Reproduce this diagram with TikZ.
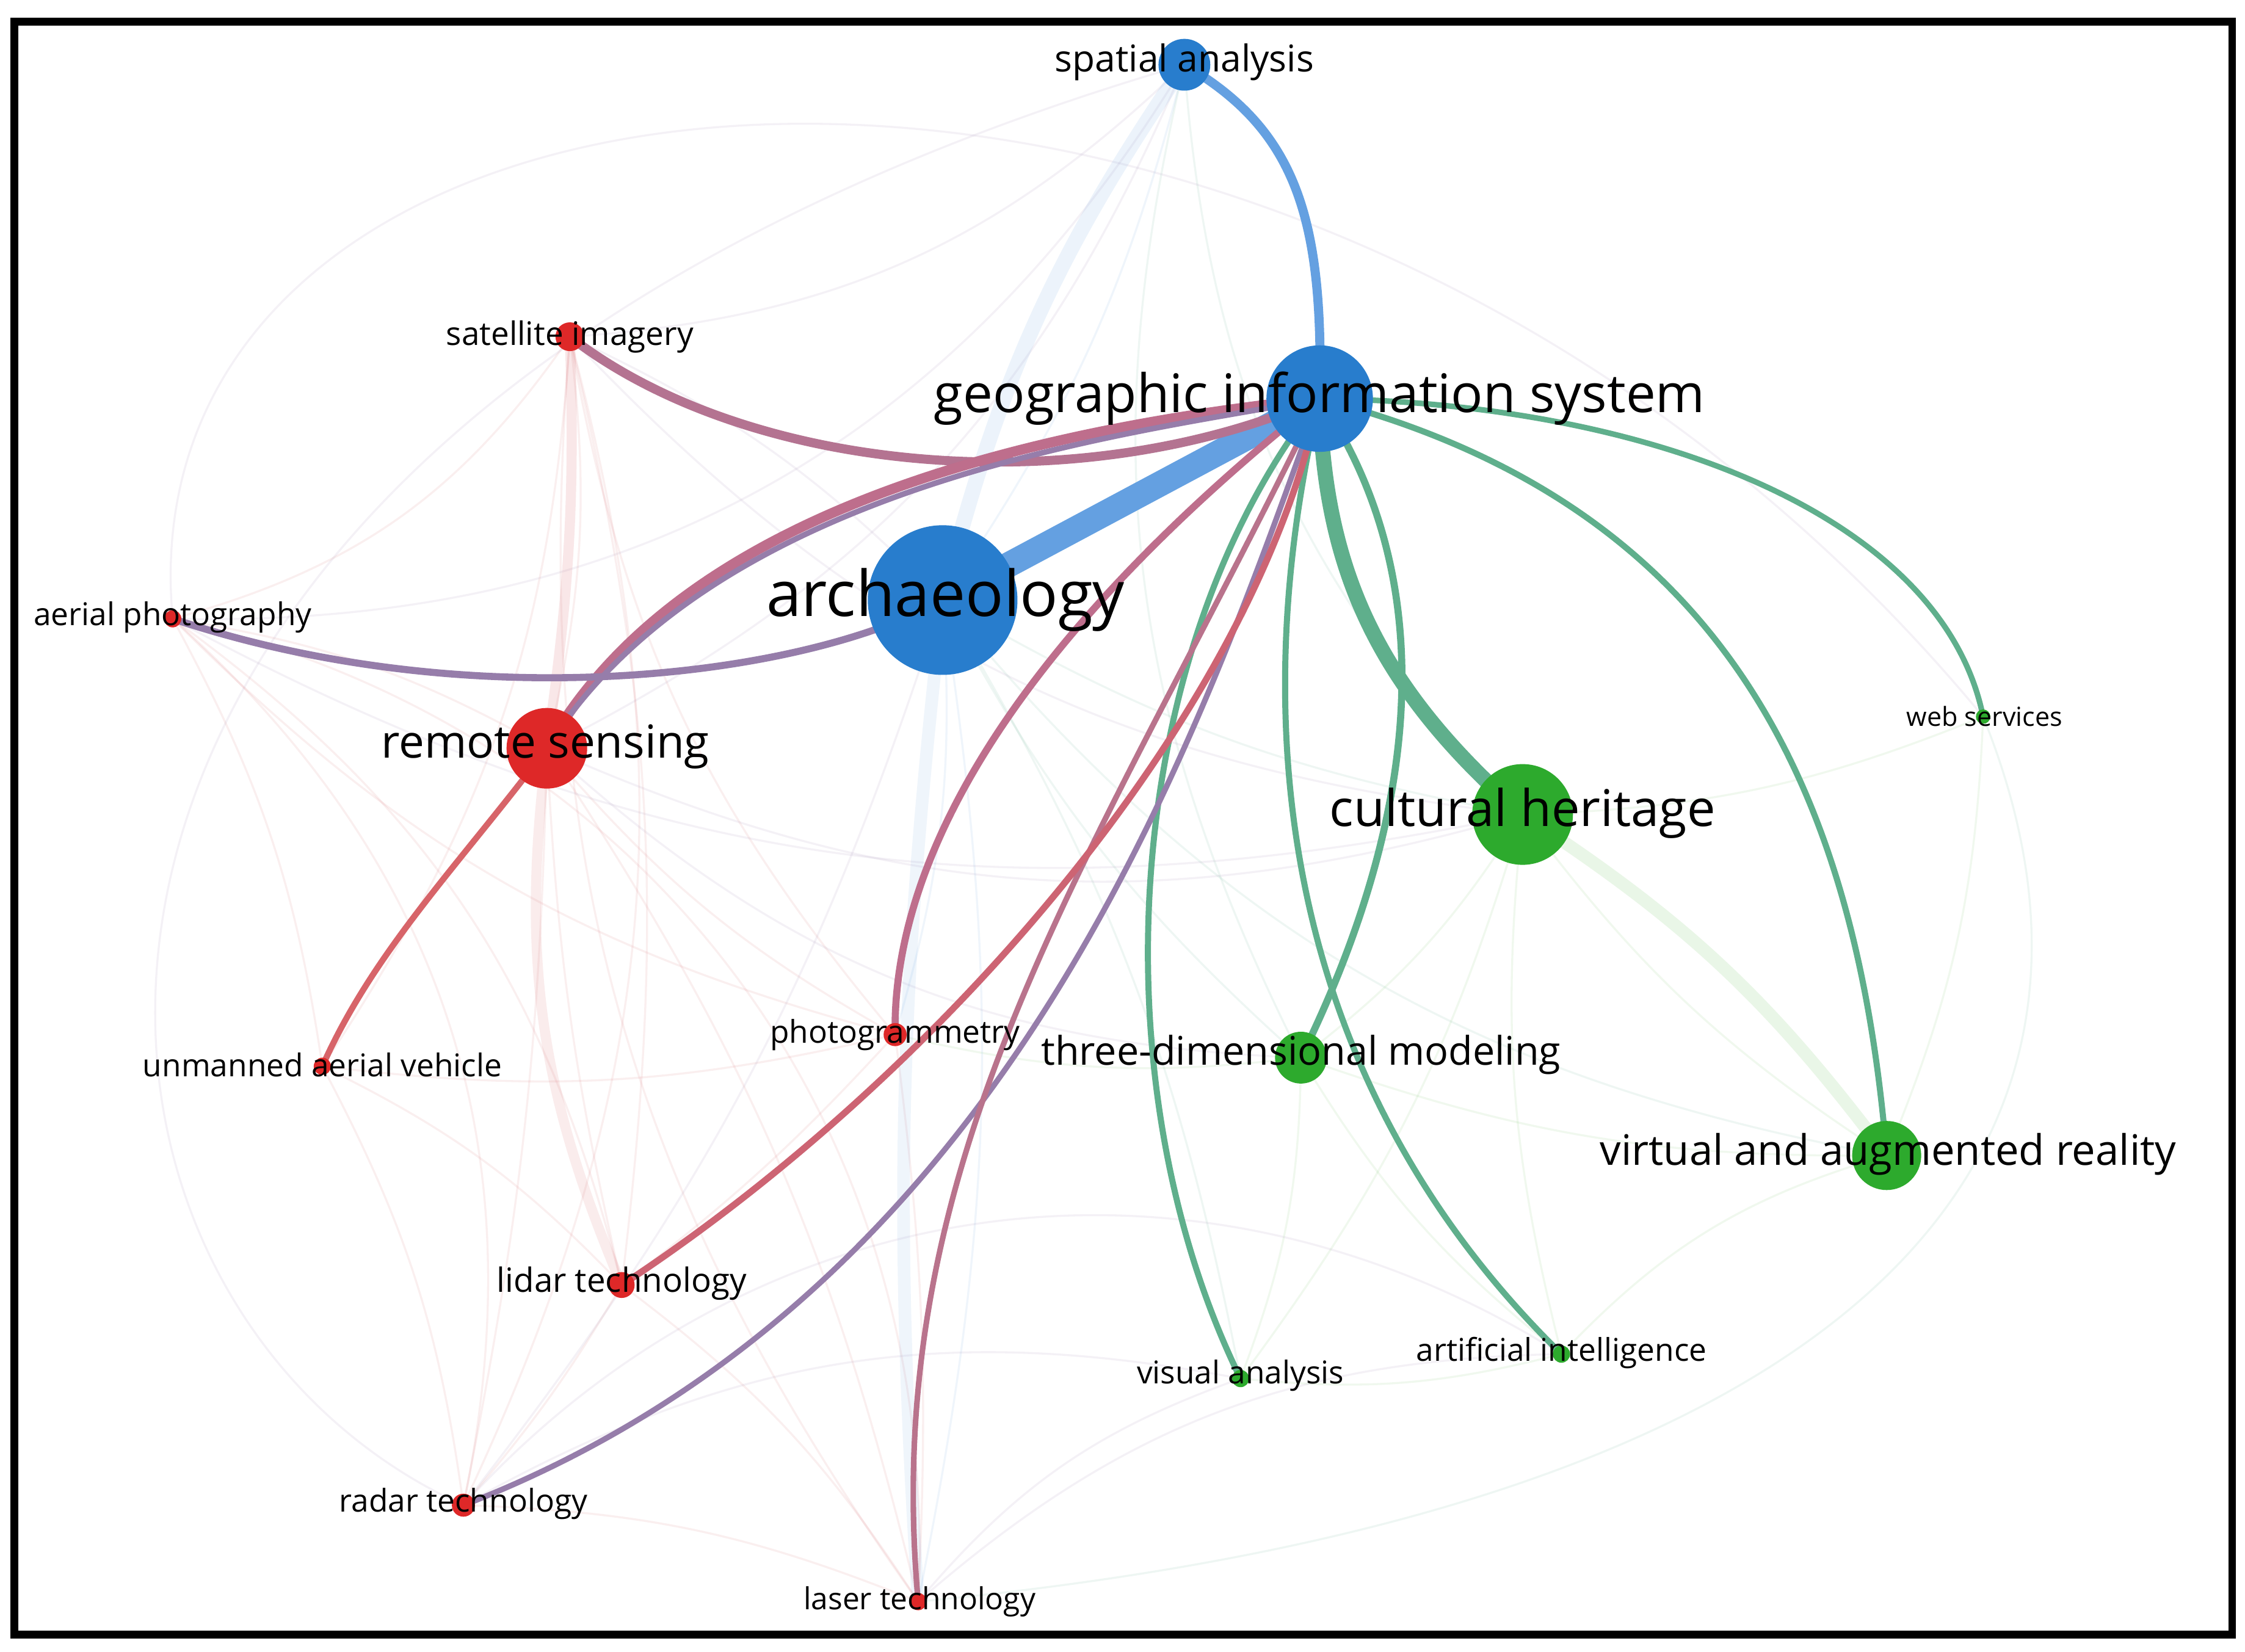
\documentclass[tikz,border=0pt]{standalone}
\usepackage{fontspec}
\setmainfont{Open Sans}
\begin{document}
\begin{tikzpicture}[x=0.01cm,y=-0.01cm,
 bl/.style={fill={rgb,255:red,40;green,125;blue,205}},
 rd/.style={fill={rgb,255:red,222;green,40;blue,40}},
 gr/.style={fill={rgb,255:red,45;green,170;blue,45}},
 lab/.style={text=black,inner sep=0pt},
 e/.style={line width=#1,line cap=round},
 faint/.style={line width=0.4pt,opacity=0.1},
 cb/.style={draw={rgb,255:red,100;green,160;blue,225}},
 cr/.style={draw={rgb,255:red,215;green,100;blue,105}},
 cp/.style={draw={rgb,255:red,150;green,125;blue,170}},
 cg/.style={draw={rgb,255:red,95;green,175;blue,140}},
 cgg/.style={draw={rgb,255:red,110;green,195;blue,95}}]
\useasboundingbox (0,0) rectangle (1560,1148);
\fill[white] (0,0) rectangle (1560,1148);
% node positions
\coordinate (sa) at (823,45);
\coordinate (gis) at (917,277);
\coordinate (ar) at (655,417);
\coordinate (si) at (396,234);
\coordinate (ap) at (120,430);
\coordinate (rs) at (380,520);
\coordinate (uav) at (224,741);
\coordinate (ph) at (622,719);
\coordinate (li) at (432,893);
\coordinate (ra) at (322,1046);
\coordinate (la) at (638,1113);
\coordinate (ch) at (1058,566);
\coordinate (tdm) at (904,735);
\coordinate (vr) at (1311,803);
\coordinate (ws) at (1378,498);
\coordinate (va) at (862,958);
\coordinate (ai) at (1085,941);
% faint edges
\foreach \a/\b/\c/\bd in {si/ap/cr/20,si/rs/cr/10,si/uav/cr/15,si/ph/cr/-15,si/li/cr/10,si/ra/cr/20,si/la/cr/-20,ap/rs/cr/10,ap/uav/cr/10,ap/li/cr/20,ap/ra/cr/30,ap/ph/cr/-15,rs/ph/cr/-10,rs/li/cr/-5,rs/ra/cr/5,rs/la/cr/10,uav/li/cr/10,uav/ra/cr/10,uav/ph/cr/-10,li/ra/cr/5,li/la/cr/10,ra/la/cr/10,ph/la/cr/5,ph/li/cr/5,ph/tdm/cgg/-10,ch/tdm/cgg/10,ch/vr/cgg/-10,ch/va/cgg/10,ch/ai/cgg/-10,tdm/vr/cgg/-10,tdm/va/cgg/10,tdm/ai/cgg/-10,va/ai/cgg/-10,vr/ai/cgg/-15,ws/vr/cgg/10,ws/ch/cgg/10,sa/ar/cb/10,sa/ch/cg/-20,sa/si/cp/20,sa/rs/cp/20,sa/tdm/cg/-20,ar/ph/cb/10,ar/la/cb/10,ar/ch/cg/-10,ar/tdm/cg/-10,ar/va/cg/10,ar/si/cp/-10,ar/ra/cp/10,ar/vr/cg/-20,rs/ch/cp/-20,rs/tdm/cp/-20,ap/ch/cp/-20,ap/la/cr/40,ra/va/cp/20,la/va/cp/15,la/ai/cp/20,ap/sa/cp/-30,ra/ai/cp/40,si/ch/cp/-20}
  \draw[faint,\c] (\a) to[bend left=\bd] (\b);
\draw[faint,cp] (ap) .. controls (80,0) and (900,-80) .. (ws);
\draw[faint,cp] (ra) .. controls (0,900) and (-50,300) .. (sa);
\draw[faint,cg] (ws) .. controls (1500,800) and (1300,1050) .. (la);
\draw[e=3pt,cb,opacity=0.12] (sa) to[bend right=10] (ar);
\draw[e=2.5pt,cb,opacity=0.1] (ar) to[bend right=5] (la);
\draw[e=2pt,cr,opacity=0.15] (si) to[bend left=5] (rs);
\draw[e=2pt,cr,opacity=0.12] (rs) to[bend right=15] (li);
\draw[e=2.5pt,cgg,opacity=0.15] (ch) to[bend left=10] (vr);
% strong edges
\draw[e=1.8pt,cb] (sa) .. controls (900,90) and (920,150) .. (gis);
\draw[e=5pt,cb] (ar) -- (gis);
\draw[e=1.8pt,draw={rgb,255:red,180;green,115;blue,145}] (si) .. controls (520,330) and (750,350) .. (gis);
\draw[e=2pt,draw={rgb,255:red,190;green,110;blue,140}] (rs) .. controls (470,360) and (700,300) .. (gis);
\draw[e=1.4pt,cp] (ap) .. controls (330,500) and (560,470) .. (ar);
\draw[e=1.1pt,cp] (rs) .. controls (500,330) and (800,300) .. (gis);
\draw[e=3pt,cg] (gis) .. controls (920,400) and (960,480) .. (ch);
\draw[e=1.4pt,cg] (gis) .. controls (1000,400) and (990,560) .. (tdm);
\draw[e=1.2pt,cg] (gis) .. controls (1200,350) and (1290,550) .. (vr);
\draw[e=1.1pt,cg] (gis) .. controls (1150,280) and (1350,360) .. (ws);
\draw[e=1.2pt,cg] (gis) .. controls (780,450) and (760,750) .. (va);
\draw[e=1.2pt,cg] (gis) .. controls (860,520) and (900,760) .. (ai);
\draw[e=1.4pt,draw={rgb,255:red,190;green,110;blue,140}] (gis) .. controls (700,450) and (620,600) .. (ph);
\draw[e=1.1pt,cp] (gis) .. controls (830,520) and (700,900) .. (ra);
\draw[e=1.1pt,draw={rgb,255:red,185;green,115;blue,140}] (gis) .. controls (760,600) and (610,800) .. (la);
\draw[e=1.3pt,draw={rgb,255:red,205;green,100;blue,115}] (gis) .. controls (870,500) and (650,750) .. (li);
\draw[e=1.2pt,cr] (rs) .. controls (320,600) and (260,660) .. (uav);
% nodes
\fill[bl] (sa) circle (18);
\fill[bl] (gis) circle (37);
\fill[bl] (ar) circle (52);
\fill[rd] (si) circle (10);
\fill[rd] (ap) circle (6);
\fill[rd] (rs) circle (28);
\fill[rd] (uav) circle (6);
\fill[rd] (ph) circle (8);
\fill[rd] (li) circle (9);
\fill[rd] (ra) circle (8);
\fill[rd] (la) circle (6);
\fill[gr] (ch) circle (35);
\fill[gr] (tdm) circle (18);
\fill[gr] (vr) circle (24);
\fill[gr] (ws) circle (5);
\fill[gr] (va) circle (6);
\fill[gr] (ai) circle (6);
% labels
\node[lab,font=\fontsize{7.3pt}{8pt}\selectfont] (saL) at (823,43) {spatial analysis};
\node[lab,font=\fontsize{10.5pt}{12pt}\selectfont] (gisL) at (917,277) {geographic information system};
\node[lab,font=\fontsize{12.5pt}{14pt}\selectfont] (arL) at (657,417) {archaeology};
\node[lab,font=\fontsize{6.4pt}{8pt}\selectfont] (siL) at (396,234) {satellite imagery};
\node[lab,font=\fontsize{6.2pt}{8pt}\selectfont] (apL) at (120,429) {aerial photography};
\node[lab,font=\fontsize{9pt}{11pt}\selectfont] (rsL) at (379,519) {remote sensing};
\node[lab,font=\fontsize{6.2pt}{8pt}\selectfont] (uavL) at (224,740) {unmanned aerial vehicle};
\node[lab,font=\fontsize{6.2pt}{8pt}\selectfont] (phL) at (622,719) {photogrammetry};
\node[lab,font=\fontsize{6.6pt}{8pt}\selectfont] (liL) at (432,892) {lidar technology};
\node[lab,font=\fontsize{6.2pt}{8pt}\selectfont] (raL) at (322,1045) {radar technology};
\node[lab,font=\fontsize{6pt}{8pt}\selectfont] (laL) at (639,1113) {laser technology};
\node[lab,font=\fontsize{10pt}{11pt}\selectfont] (chL) at (1058,565) {cultural heritage};
\node[lab,font=\fontsize{7.8pt}{9pt}\selectfont] (tdmL) at (904,733) {three-dimensional modeling};
\node[lab,font=\fontsize{8.3pt}{10pt}\selectfont] (vrL) at (1312,802) {virtual and augmented reality};
\node[lab,font=\fontsize{5.2pt}{6pt}\selectfont] (wsL) at (1379,498) {web services};
\node[lab,font=\fontsize{6.2pt}{8pt}\selectfont] (vaL) at (862,956) {visual analysis};
\node[lab,font=\fontsize{6.2pt}{8pt}\selectfont] (aiL) at (1085,940) {artificial intelligence};
% frame
\draw[line width=1.5pt] (10,15) rectangle (1551,1136);
\end{tikzpicture}
\end{document}
